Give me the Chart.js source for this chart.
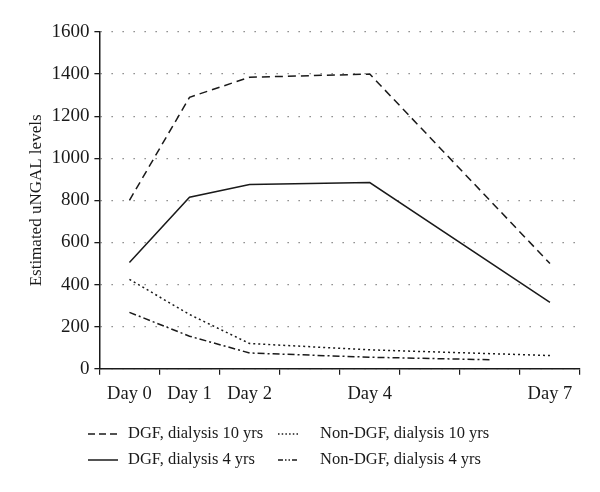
<!DOCTYPE html>
<html lang="en">
<head>
    <meta charset="UTF-8">
    <title>uNGAL levels</title>
    <script src="https://cdn.jsdelivr.net/npm/chart.js"></script>
    <style>
        html, body { margin: 0; padding: 0; background: #fff; }
        #wrap { width: 600px; height: 492px; }
    </style>
</head>
<body>
    <div id="wrap"><canvas id="myChart" width="600" height="492"></canvas></div>

    <script>
        // categories (Day 3, 5, 6 have no label in the figure)
        const days = ['Day 0', 'Day 1', 'Day 2', '', 'Day 4', '', '', 'Day 7'];

        // series values
        const dgf10 = [800, 1290, 1385, null, 1400, null, null, 500];
        const nonDgf10 = [425, 258, 120, null, 90, null, null, 63];
        const dgf4 = [505, 815, 875, null, 885, null, null, 315];
        const nonDgf4 = [268, 155, 75, null, 55, null, 43, null];

        const yTicks = [0, 200, 400, 600, 800, 1000, 1200, 1400, 1600];

        const serif = '"Liberation Serif", "Times New Roman", serif';
        const ink = '#1a1a1a';

        // draws the 2x2 legend under the x axis
        const pairLegend = {
            id: 'pairLegend',
            afterDraw(chart) {
                const ctx = chart.ctx;
                const cols = [{ x: 88, w: 30, tx: 128 }, { x: 278, w: 20, tx: 320 }];
                const rows = [434, 460];
                chart.data.datasets.forEach((ds, i) => {
                    const c = cols[i % 2];
                    const y = rows[Math.floor(i / 2)];
                    ctx.save();
                    ctx.strokeStyle = ds.borderColor;
                    ctx.lineWidth = ds.borderWidth;
                    ctx.setLineDash(ds.legendDash || []);
                    ctx.beginPath();
                    ctx.moveTo(c.x, y);
                    ctx.lineTo(c.x + c.w, y);
                    ctx.stroke();
                    ctx.setLineDash([]);
                    ctx.fillStyle = ink;
                    ctx.font = '16.5px ' + serif;
                    ctx.textBaseline = 'middle';
                    ctx.fillText(ds.label, c.tx, y);
                    ctx.restore();
                });
            }
        };

        const ctx = document.getElementById('myChart').getContext('2d');
        new Chart(ctx, {
            type: 'line',
            data: {
                labels: days,
                datasets: [
                    { label: 'DGF, dialysis 10 yrs', data: dgf10, borderDash: [8, 5], legendDash: [7, 4] },
                    { label: 'Non-DGF, dialysis 10 yrs', data: nonDgf10, borderDash: [2, 3], legendDash: [1.5, 2.2] },
                    { label: 'DGF, dialysis 4 yrs', data: dgf4, borderDash: [], legendDash: [] },
                    { label: 'Non-DGF, dialysis 4 yrs', data: nonDgf4, borderDash: [7, 3, 2, 3], legendDash: [5, 2, 1.5, 2, 1.5, 2] }
                ].map(d => Object.assign({
                    borderColor: ink,
                    borderWidth: 1.5,
                    pointRadius: 0,
                    tension: 0,
                    spanGaps: true,
                    fill: false
                }, d))
            },
            options: {
                responsive: false,
                animation: false,
                layout: { padding: { top: 32, right: 20, bottom: 79, left: 26 } },
                plugins: {
                    legend: { display: false },
                    tooltip: { enabled: false }
                },
                scales: {
                    x: {
                        offset: true,
                        grid: {
                            offset: true,
                            drawOnChartArea: false,
                            color: ink,
                            tickColor: ink,
                            tickLength: 6,
                            lineWidth: 1.2
                        },
                        border: { color: ink, width: 1.5 },
                        ticks: {
                            color: ink,
                            font: { family: serif, size: 18.5 },
                            padding: 8,
                            maxRotation: 0,
                            autoSkip: false
                        }
                    },
                    y: {
                        min: yTicks[0],
                        max: yTicks[yTicks.length - 1],
                        afterBuildTicks(axis) {
                            axis.ticks = yTicks.map(v => ({ value: v }));
                        },
                        grid: {
                            color: '#777',
                            lineWidth: 1.3,
                            tickColor: ink,
                            tickLength: 5,
                            tickBorderDash: []
                        },
                        border: { color: ink, width: 1.5, dash: [1.3, 9.7] },
                        ticks: {
                            color: ink,
                            font: { family: serif, size: 19 },
                            padding: 5,
                            callback: v => String(v)
                        },
                        title: {
                            display: true,
                            text: 'Estimated uNGAL levels',
                            color: ink,
                            font: { family: serif, size: 17 },
                            padding: { top: 0, bottom: 0 }
                        }
                    }
                }
            },
            plugins: [pairLegend]
        });
    </script>
</body>
</html>
